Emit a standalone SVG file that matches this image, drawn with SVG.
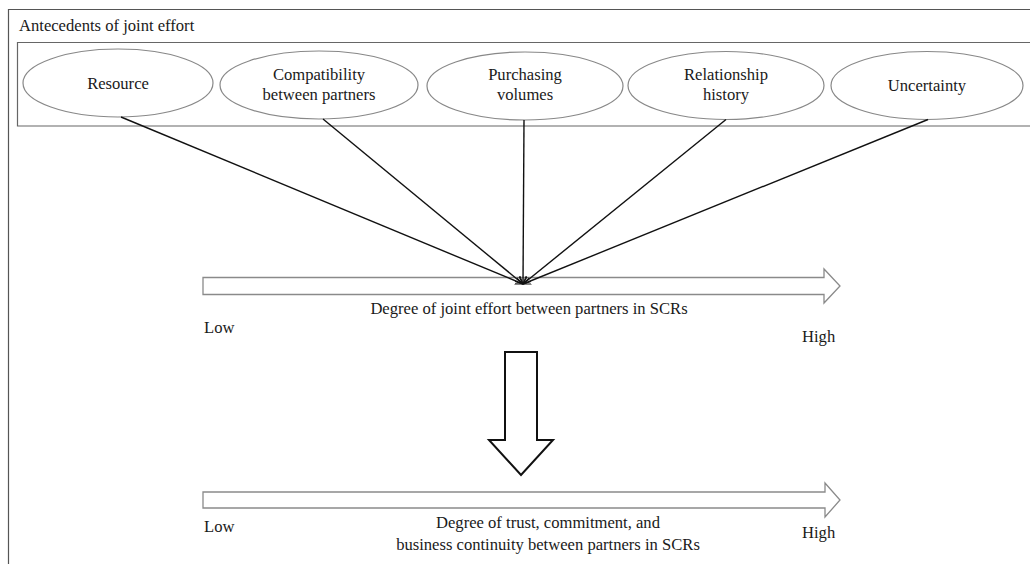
<svg xmlns="http://www.w3.org/2000/svg" width="1030" height="564" viewBox="0 0 1030 564">
  <style>
    text { font-family: "Liberation Serif", "Times New Roman", serif; font-size: 16.6px; fill: #1a1a1a; }
    .mid { text-anchor: middle; }
    .frame { fill: none; stroke: #555; stroke-width: 1.2; }
    .inner { fill: none; stroke: #666; stroke-width: 1.2; }
    .node { fill: #fff; stroke: #888; stroke-width: 1.2; }
    .link { stroke: #111; stroke-width: 1.4; fill: none; marker-end: url(#head); }
    .scale { fill: #fff; stroke: #8a8a8a; stroke-width: 1.3; }
    .down { fill: #fff; stroke: #111; stroke-width: 2; }
  </style>
  <defs>
    <marker id="head" viewBox="0 0 10 10" refX="10" refY="5" markerWidth="8" markerHeight="8" orient="auto" markerUnits="userSpaceOnUse">
      <path d="M0,1 L10,5 L0,9" fill="none" stroke="#111" stroke-width="1.4"/>
    </marker>
  </defs>

  <rect width="1030" height="564" fill="#fff"/>

  <!-- outer frame (open at the right and bottom) -->
  <path class="frame" d="M1030,9.5 H8.5 V564"/>
  <text x="19" y="31">Antecedents of joint effort</text>

  <!-- inner box around the antecedents -->
  <path class="inner" d="M1030,42.5 H17.5 V126 H1030"/>

  <g id="resource">
    <ellipse class="node" cx="118" cy="83" rx="95" ry="34"/>
    <text class="mid" x="118" y="89">Resource</text>
  </g>
  <g id="compatibility">
    <ellipse class="node" cx="319" cy="85" rx="99" ry="34"/>
    <text class="mid" x="319" y="80">Compatibility</text>
    <text class="mid" x="319" y="100">between partners</text>
  </g>
  <g id="purchasing">
    <ellipse class="node" cx="525" cy="86" rx="98" ry="34"/>
    <text class="mid" x="525" y="80">Purchasing</text>
    <text class="mid" x="525" y="100">volumes</text>
  </g>
  <g id="relationship">
    <ellipse class="node" cx="726" cy="85.5" rx="98" ry="34"/>
    <text class="mid" x="726" y="80">Relationship</text>
    <text class="mid" x="726" y="100">history</text>
  </g>
  <g id="uncertainty">
    <ellipse class="node" cx="927" cy="85.5" rx="96" ry="34"/>
    <text class="mid" x="927" y="91">Uncertainty</text>
  </g>

  <!-- low-to-high scale of joint effort -->
  <g id="effort-scale">
    <path class="scale" d="M203,277.5 H824 V269 L840,286 L824,303 V294.5 H203 Z"/>
    <text class="mid" x="529" y="314">Degree of joint effort between partners in SCRs</text>
    <text x="204" y="333">Low</text>
    <text x="802" y="342">High</text>
  </g>

  <!-- influences converging on the scale -->
  <g id="connectors">
    <line class="link" x1="121" y1="117" x2="523" y2="284"/>
    <line class="link" x1="323" y1="119" x2="523" y2="284"/>
    <line class="link" x1="524" y1="120" x2="523" y2="284"/>
    <line class="link" x1="726" y1="119.5" x2="523" y2="284"/>
    <line class="link" x1="928" y1="119.5" x2="523" y2="284"/>
  </g>

  <!-- block arrow leading to the outcome -->
  <g id="outcome-arrow">
    <path class="down" d="M505,352 H537 V440 H553 L521,475 L489,440 H505 Z"/>
  </g>

  <!-- low-to-high scale of trust, commitment and continuity -->
  <g id="trust-scale">
    <path class="scale" d="M203,492 H825 V483 L840,500 L825,517 V508 H203 Z"/>
    <text x="204" y="532">Low</text>
    <text class="mid" x="548" y="528">Degree of trust, commitment, and</text>
    <text class="mid" x="548" y="550">business continuity between partners in SCRs</text>
    <text x="802" y="538">High</text>
  </g>
</svg>
